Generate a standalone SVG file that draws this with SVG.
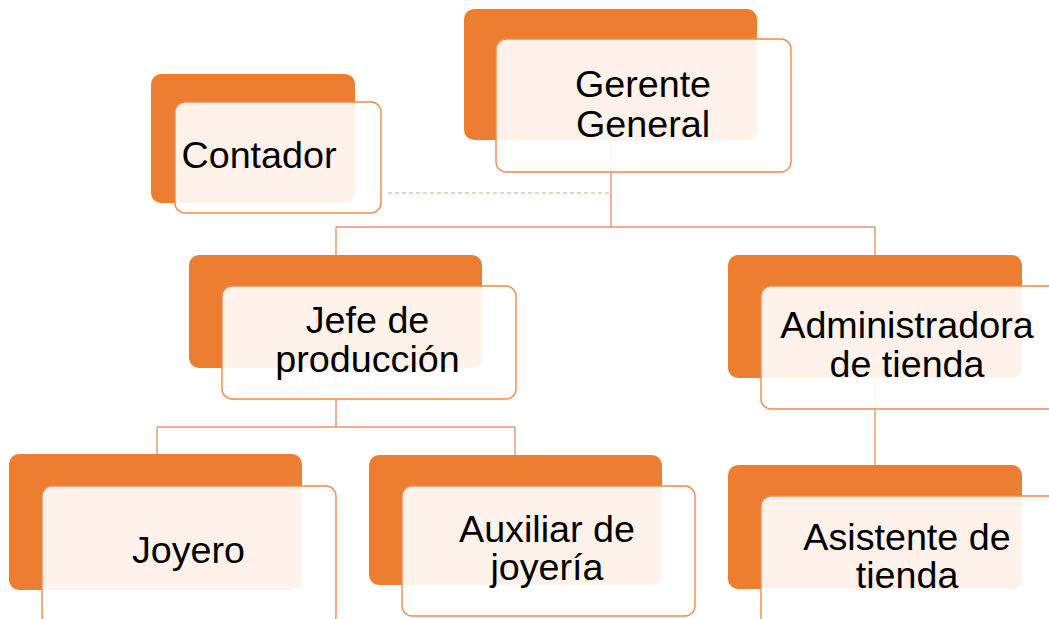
<svg xmlns="http://www.w3.org/2000/svg" width="1049" height="619" viewBox="0 0 1049 619">
<style>
.back{fill:#ED7D31}
.front{fill:#FFFFFF;fill-opacity:0.9;stroke:#EE8A4C;stroke-width:1.4}
.txt{font-family:"Liberation Sans",Arial,sans-serif;font-size:37.7px;fill:#000;text-anchor:middle}
.conn{stroke:#E0976A;stroke-width:1.4;fill:none}
.dash{stroke:#C8A48C;stroke-width:1;stroke-dasharray:4 3;fill:none}
</style>
<defs>
<clipPath id="c7"><rect x="700" y="400" width="349" height="189"/></clipPath>
</defs>
<g id="connectors">
<path class="conn" d="M611 140V227M336 227H875M336 227V255M875 227V255M336 368V427M157 427H515M157 427V454M515 427V455M875 378V465"/>
<path class="dash" d="M388 193H609"/>
</g>
<g id="contador">
<rect class="back" x="151" y="74" width="204" height="129" rx="10"/>
<rect class="front" x="175" y="102" width="206" height="111" rx="10"/>
<text class="txt" x="259" y="168">Contador</text>
</g>
<g id="gerente">
<rect class="back" x="464" y="9" width="293" height="131" rx="10"/>
<rect class="front" x="496" y="39" width="295" height="133" rx="10"/>
<text class="txt" x="643" y="97">Gerente</text><text class="txt" x="643" y="137">General</text>
</g>
<g id="jefe">
<rect class="back" x="189" y="255" width="293" height="113" rx="10"/>
<rect class="front" x="222" y="286" width="294" height="113" rx="10"/>
<text class="txt" x="367.5" y="333">Jefe de</text><text class="txt" x="367.5" y="372">producción</text>
</g>
<g id="admin">
<rect class="back" x="728" y="255" width="294" height="123" rx="10"/>
<rect class="front" x="761" y="286" width="300" height="123" rx="10"/>
<text class="txt" x="907" y="338">Administradora</text><text class="txt" x="907" y="377">de tienda</text>
</g>
<g id="joyero">
<rect class="back" x="9" y="454" width="293" height="136" rx="10"/>
<rect class="front" x="42" y="486" width="294" height="140" rx="10"/>
<text class="txt" x="188.5" y="563">Joyero</text>
</g>
<g id="auxiliar">
<rect class="back" x="369" y="455" width="293" height="130" rx="10"/>
<rect class="front" x="402" y="486" width="293" height="130" rx="10"/>
<text class="txt" x="547" y="542">Auxiliar de</text><text class="txt" x="547" y="580">joyería</text>
</g>
<g id="asistente">
<rect class="back" x="728" y="465" width="294" height="124" rx="10"/>
<rect class="front" x="761" y="496" width="300" height="140" rx="10"/>
<g clip-path="url(#c7)"><text class="txt" x="907" y="550">Asistente de</text><text class="txt" x="907" y="588">tienda</text></g>
</g>
</svg>
